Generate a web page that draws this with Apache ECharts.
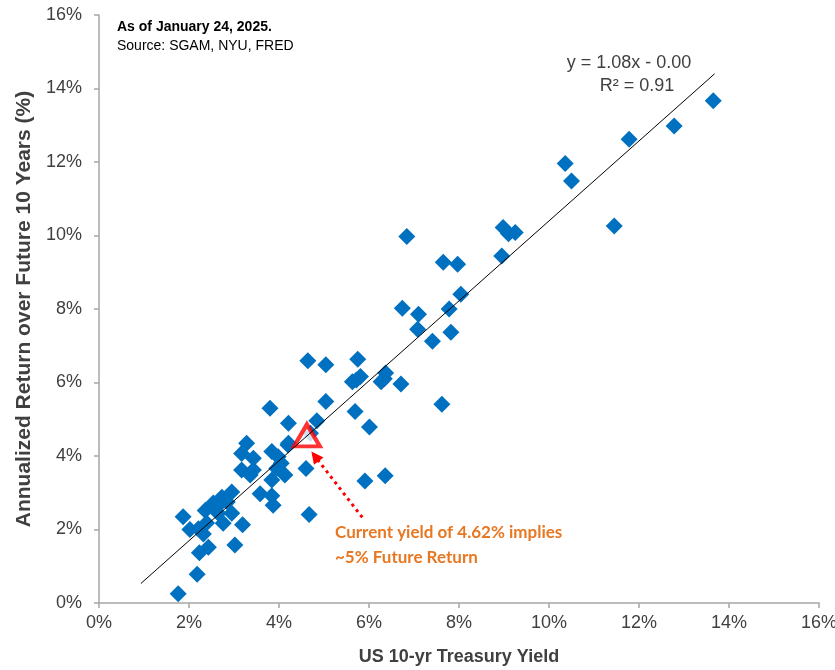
<!DOCTYPE html>
<html>
<head>
<meta charset="utf-8">
<title>10-yr Treasury Yield vs Future 10-Year Return</title>
<script src="https://cdn.jsdelivr.net/npm/echarts@6/dist/echarts.min.js"></script>
<style>
  html, body { margin: 0; padding: 0; background: #ffffff; }
  #chart { width: 835px; height: 670px; }
</style>
</head>
<body>
<div id="chart"></div>
<script>
// Starting 10-yr Treasury yield (%) and annualized return over the following 10 years (%)
const yieldPct = [
  1.76, 2.18, 2.23, 2.43, 3.02, 1.87, 2.02, 2.21, 2.32, 2.39,
  2.36, 2.54, 2.73, 2.95, 2.65, 2.76, 2.95, 3.19, 2.62, 3.58,
  3.84, 3.87, 2.85, 3.17, 3.43, 3.36, 3.28, 3.17, 3.43, 3.84,
  3.98, 3.95, 4.13, 3.84, 3.80, 4.21, 4.21, 4.60, 4.67, 4.05,
  4.20, 4.84, 4.70, 5.04, 4.64, 5.04, 5.75, 5.63, 5.72, 5.81,
  6.37, 6.27, 6.34, 6.71, 5.69, 6.01, 7.62, 5.91, 6.36, 6.84,
  7.65, 7.97, 8.04, 6.74, 7.10, 7.78, 7.08, 7.82, 7.41, 8.95,
  8.98, 9.10, 9.25, 10.36, 10.50, 11.45, 11.78, 12.78, 13.65
];
const futureReturnPct = [
  0.25, 0.78, 1.37, 1.52, 1.58, 2.35, 2.00, 2.02, 1.88, 2.18,
  2.52, 2.72, 2.88, 3.02, 2.44, 2.17, 2.44, 2.13, 2.62, 2.97,
  2.92, 2.66, 2.75, 3.62, 3.62, 3.48, 4.35, 4.07, 3.94, 4.12,
  3.98, 3.66, 3.48, 3.35, 5.30, 4.89, 4.35, 3.66, 2.41, 3.80,
  4.30, 4.96, 4.62, 5.48, 6.59, 6.48, 6.63, 6.02, 6.07, 6.16,
  6.26, 6.02, 6.10, 5.96, 5.21, 4.79, 5.41, 3.32, 3.46, 9.97,
  9.27, 9.22, 8.40, 8.02, 7.86, 8.00, 7.45, 7.37, 7.12, 9.44,
  10.22, 10.05, 10.08, 11.96, 11.48, 10.26, 12.62, 12.98, 13.67
];

// Linear trend line endpoints (yield %, return %)
const trendX = [0.93, 13.68];
const trendY = [0.53, 14.40];

// Current yield marker and its implied return
const currentYield = [4.62];
const currentImplied = [4.56];

// Dotted pointer from the note to the current-yield marker
const pointerX = [5.85, 4.72];
const pointerY = [2.33, 4.12];

// Axis tick values (percent)
const axisTicks = [0, 2, 4, 6, 8, 10, 12, 14, 16];

const narrow = '"Liberation Sans Narrow", "Arial Narrow", "Liberation Sans", Arial, sans-serif';
const axisGrey = '#a6a6a6';
const textGrey = '#404040';

const scatterData = yieldPct.map((x, i) => [x, futureReturnPct[i]]);
const trendData = trendX.map((x, i) => [x, trendY[i]]);
const pointerData = pointerX.map((x, i) => [x, pointerY[i]]);
const currentData = currentYield.map((x, i) => [x, currentImplied[i]]);

const axisCommon = {
  type: 'value',
  min: axisTicks[0],
  max: axisTicks[axisTicks.length - 1],
  interval: axisTicks[1] - axisTicks[0],
  splitLine: { show: false },
  axisLine: { show: true, onZero: false, lineStyle: { color: axisGrey, width: 1.5 } },
  axisTick: { show: true, length: 5, lineStyle: { color: axisGrey, width: 1.5 } },
  axisLabel: {
    formatter: '{value}%',
    color: textGrey,
    fontFamily: narrow,
    fontSize: 18
  },
  nameTextStyle: {
    color: textGrey,
    fontFamily: narrow,
    fontWeight: 'bold',
    fontSize: 18
  }
};

const chart = echarts.init(document.getElementById('chart'), null, { renderer: 'canvas' });

chart.setOption({
  animation: false,
  backgroundColor: '#ffffff',
  grid: {
    left: 99, right: 16, top: 15, bottom: 67,
    containLabel: false, outerBoundsMode: 'none'
  },
  xAxis: Object.assign({}, axisCommon, {
    name: 'US 10-yr Treasury Yield',
    nameLocation: 'middle',
    nameGap: 45,
    axisLabel: Object.assign({}, axisCommon.axisLabel, { margin: 11 })
  }),
  yAxis: Object.assign({}, axisCommon, {
    name: 'Annualized Return over Future 10 Years (%)',
    nameLocation: 'middle',
    nameGap: 52,
    nameTextStyle: Object.assign({}, axisCommon.nameTextStyle, { fontSize: 21 }),
    axisLabel: Object.assign({}, axisCommon.axisLabel, { margin: 17 })
  }),
  series: [
    {
      name: 'Yield vs return',
      type: 'scatter',
      data: scatterData,
      symbol: 'diamond',
      symbolSize: 17,
      itemStyle: { color: '#0070c0', opacity: 1 },
      z: 2
    },
    {
      name: 'Current yield',
      type: 'scatter',
      data: currentData,
      symbol: 'triangle',
      symbolSize: [26, 22],
      itemStyle: { color: '#ffffff', borderColor: '#ff0000', borderWidth: 4 },
      z: 3
    },
    {
      name: 'Trend',
      type: 'line',
      data: trendData,
      showSymbol: false,
      symbol: 'none',
      lineStyle: { color: '#000000', width: 1 },
      z: 4,
      silent: true
    },
    {
      name: 'Pointer',
      type: 'line',
      data: pointerData,
      symbol: 'none',
      lineStyle: { color: '#ff0000', width: 3, type: [3, 4] },
      z: 5,
      silent: true
    }
  ],
  graphic: [
    {
      id: 'asOf', type: 'text', left: 117, top: 20,
      style: { text: 'As of January 24, 2025.', font: 'bold 14px ' + narrow, fill: '#000000' }
    },
    {
      id: 'source', type: 'text', left: 117, top: 39,
      style: { text: 'Source: SGAM, NYU, FRED', font: '14px ' + narrow, fill: '#000000' }
    },
    {
      id: 'eq', type: 'text', x: 629, y: 54,
      style: { text: 'y = 1.08x - 0.00', font: '18px ' + narrow, fill: textGrey, align: 'center' }
    },
    {
      id: 'r2', type: 'text', x: 637, y: 77,
      style: { text: 'R\u00b2 = 0.91', font: '18px ' + narrow, fill: textGrey, align: 'center' }
    },
    {
      id: 'note', type: 'text', left: 335, top: 520,
      style: {
        text: 'Current yield of 4.62% implies\n~5% Future Return',
        font: 'bold 17px Lato, "Open Sans", sans-serif',
        lineHeight: 25,
        fill: '#e87722'
      }
    }
  ]
});

// Arrowhead at the end of the dotted pointer, placed through the axis scales
(function addArrowHead() {
  const end = chart.convertToPixel({ gridIndex: 0 }, pointerData[1]);
  const start = chart.convertToPixel({ gridIndex: 0 }, pointerData[0]);
  const ang = Math.atan2(end[1] - start[1], end[0] - start[0]);
  const len = 12, half = 6;
  const bx = end[0] - len * Math.cos(ang), by = end[1] - len * Math.sin(ang);
  const px = -Math.sin(ang), py = Math.cos(ang);
  chart.setOption({
    graphic: [{
      id: 'arrowHead',
      type: 'polygon',
      z: 10,
      shape: { points: [end, [bx + half * px, by + half * py], [bx - half * px, by - half * py]] },
      style: { fill: '#ff0000' }
    }]
  });
})();
</script>
</body>
</html>
